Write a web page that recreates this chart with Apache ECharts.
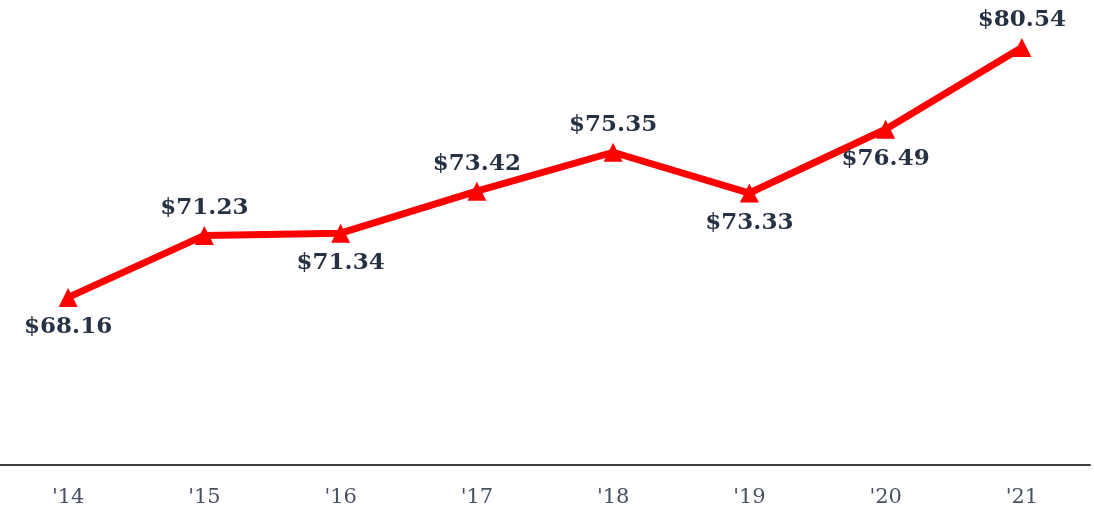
<!DOCTYPE html>
<html><head><meta charset="utf-8">
<script src="https://cdn.jsdelivr.net/npm/echarts@6/dist/echarts.min.js"></script>
<style>html,body{margin:0;padding:0;background:#fff}#c{width:1094px;height:517px}</style>
</head><body><div id="c"></div>
<script>
const categories = ["'14","'15","'16","'17","'18","'19","'20","'21"];
const values = [68.16, 71.23, 71.34, 73.42, 75.35, 73.33, 76.49, 80.54];
const labelPositions = ['bottom','top','bottom','top','top','bottom','bottom','top'];

const chart = echarts.init(document.getElementById('c'));
chart.setOption({
  animation: false,
  grid: {left: -6, right: 4, top: 21, bottom: 52},
  xAxis: {
    type: 'category', data: categories, boundaryGap: true,
    axisLine: {lineStyle: {color: '#404040', width: 2}},
    axisTick: {show: false},
    axisLabel: {color: '#4a5262', fontFamily: 'DejaVu Serif', fontSize: 21, margin: 22}
  },
  yAxis: {type: 'value', min: 59.86, max: 81.85, show: false, splitLine: {show: false}},
  series: [{
    type: 'line',
    data: values.map((v, i) => ({value: v, label: {position: labelPositions[i], distance: labelPositions[i] === 'top' ? 6 : 9}})),
    symbol: 'triangle', symbolSize: 19,
    lineStyle: {color: '#ff0000', width: 7},
    itemStyle: {color: '#ff0000'},
    label: {
      show: true,
      formatter: p => '$' + p.value.toFixed(2),
      color: '#263244', fontFamily: 'DejaVu Serif', fontWeight: 'bold', fontSize: 23
    }
  }]
});
</script></body></html>
